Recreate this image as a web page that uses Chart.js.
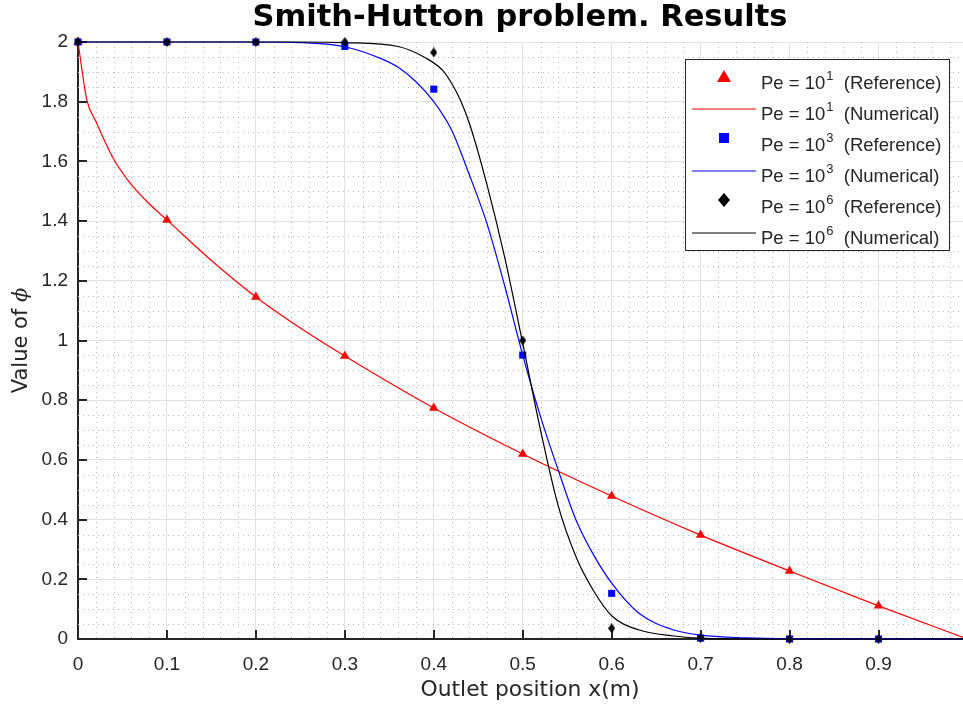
<!DOCTYPE html>
<html>
<head>
<meta charset="utf-8">
<title>Smith-Hutton problem. Results</title>
<script src="https://cdn.jsdelivr.net/npm/chart.js@4/dist/chart.umd.min.js"></script>
<style>
  html, body { margin: 0; padding: 0; background: #fff; }
  #wrap { width: 963px; height: 707px; }
</style>
</head>
<body>
<div id="wrap"><canvas id="phiChart" width="963" height="707"></canvas></div>
<script>
// reference values at the outlet (x = 0 .. 0.9)
const refX = [0, 0.1, 0.2, 0.3, 0.4, 0.5, 0.6, 0.7, 0.8, 0.9];
const refPe1 = [2.0, 1.404, 1.146, 0.948, 0.774, 0.620, 0.479, 0.348, 0.228, 0.111];
const refPe3 = [2.0, 2.0, 2.0, 1.985, 1.842, 0.951, 0.153, 0.003, 0.0, 0.0];
const refPe6 = [2.0, 2.0, 2.0, 2.0, 1.965, 1.0, 0.036, 0.004, 0.0, 0.0];

// numerical solution along the outlet
const numPe1X = [0, 0.01, 0.02, 0.03, 0.04, 0.05, 0.06, 0.08, 0.1, 0.15, 0.2, 0.25, 0.3, 0.4, 0.5, 0.6, 0.7, 0.8, 0.9, 1.0];
const numPe1 = [2.0, 1.805, 1.735, 1.668, 1.608, 1.562, 1.522, 1.458, 1.404, 1.268, 1.146, 1.042, 0.948, 0.774, 0.620, 0.479, 0.348, 0.228, 0.111, 0.0];

const numPe3X = [0, 0.2, 0.25, 0.3, 0.34, 0.36, 0.38, 0.4, 0.42, 0.44, 0.46, 0.48, 0.5, 0.52, 0.54, 0.56, 0.58, 0.6, 0.63, 0.67, 0.7, 0.75, 0.8, 1.0];
const numPe3 = [2.0, 2.0, 1.998, 1.984, 1.945, 1.915, 1.867, 1.800, 1.705, 1.555, 1.390, 1.180, 0.951, 0.745, 0.565, 0.398, 0.280, 0.187, 0.088, 0.030, 0.013, 0.004, 0.001, 0.0];

const numPe6X = [0, 0.25, 0.3, 0.36, 0.39, 0.41, 0.42, 0.43, 0.44, 0.46, 0.48, 0.5, 0.52, 0.54, 0.56, 0.58, 0.6, 0.63, 0.67, 0.7, 0.75, 1.0];
const numPe6 = [2.0, 2.0, 1.998, 1.985, 1.948, 1.905, 1.862, 1.805, 1.728, 1.520, 1.275, 0.990, 0.700, 0.445, 0.275, 0.160, 0.078, 0.031, 0.010, 0.003, 0.0, 0.0];

const xTicks = [0, 0.1, 0.2, 0.3, 0.4, 0.5, 0.6, 0.7, 0.8, 0.9];
const yTicks = [0, 0.2, 0.4, 0.6, 0.8, 1, 1.2, 1.4, 1.6, 1.8, 2];
const xMinorStep = 0.02;
const yMinorStep = 0.05;

const legendExp = ['1', '1', '3', '3', '6', '6'];
const legendKind = ['Reference', 'Numerical', 'Reference', 'Numerical', 'Reference', 'Numerical'];

const TXT = '#262626';
const FONT = '"Liberation Sans", Arial, Helvetica, sans-serif';
const WIDE = '"DejaVu Sans", Verdana, sans-serif';

function toPoints(xs, ys) {
  return xs.map((x, i) => ({ x: x, y: ys[i] }));
}

// small black diamond, a bit taller than wide
function diamond(w, h) {
  const c = document.createElement('canvas');
  c.width = w; c.height = h;
  const g = c.getContext('2d');
  g.fillStyle = '#000';
  g.beginPath();
  g.moveTo(w / 2, 0); g.lineTo(w, h / 2); g.lineTo(w / 2, h); g.lineTo(0, h / 2);
  g.closePath();
  g.fill();
  return c;
}

function fmt(v) {
  return String(+v.toFixed(2));
}

// let the plot area run all the way to the right edge of the canvas
const fullWidth = {
  id: 'fullWidth',
  afterLayout(chart) {
    const area = chart.chartArea;
    const x = chart.scales.x;
    if (area.right < chart.width) {
      area.right = chart.width;
      area.width = area.right - area.left;
      x.right = chart.width;
      x.width = x.right - x.left;
      x.configure();
    }
  }
};

// dotted minor grid + inward tick marks
const minorGrid = {
  id: 'minorGrid',
  beforeDatasetsDraw(chart) {
    const { ctx, chartArea: a, scales: { x, y } } = chart;
    ctx.save();
    ctx.strokeStyle = '#bababa';
    ctx.lineWidth = 1;
    ctx.setLineDash([1, 4]);
    for (let v = xMinorStep; v < x.max; v += xMinorStep) {
      if (Math.abs(v / 0.1 - Math.round(v / 0.1)) < 1e-6) continue;
      const px = Math.round(x.getPixelForValue(v)) + 0.5;
      ctx.beginPath(); ctx.moveTo(px, a.top); ctx.lineTo(px, a.bottom); ctx.stroke();
    }
    for (let v = yMinorStep; v < y.max; v += yMinorStep) {
      if (Math.abs(v / 0.2 - Math.round(v / 0.2)) < 1e-6) continue;
      const py = Math.round(y.getPixelForValue(v)) + 0.5;
      ctx.beginPath(); ctx.moveTo(a.left, py); ctx.lineTo(a.right, py); ctx.stroke();
    }
    ctx.setLineDash([]);
    ctx.strokeStyle = TXT;
    ctx.lineWidth = 2;
    xTicks.forEach(v => {
      const px = Math.round(x.getPixelForValue(v));
      ctx.beginPath(); ctx.moveTo(px, a.bottom); ctx.lineTo(px, a.bottom - 9); ctx.stroke();
    });
    yTicks.forEach(v => {
      const py = Math.round(y.getPixelForValue(v));
      ctx.beginPath(); ctx.moveTo(a.left, py); ctx.lineTo(a.left + 9, py); ctx.stroke();
    });
    ctx.restore();
  }
};

// title, axis titles and the legend box
const decorations = {
  id: 'decorations',
  afterDraw(chart) {
    const { ctx, chartArea: a } = chart;
    ctx.save();
    ctx.fillStyle = '#000';
    ctx.font = 'bold 30.5px ' + WIDE;
    ctx.textAlign = 'center';
    ctx.textBaseline = 'middle';
    ctx.fillText('Smith-Hutton problem. Results', 520, 18);

    ctx.fillStyle = TXT;
    ctx.font = '21.8px ' + WIDE;
    ctx.fillText('Outlet position x(m)', 530, 690);

    // y title, rotated, with italic phi
    ctx.save();
    ctx.translate(22, (a.top + a.bottom) / 2);
    ctx.rotate(-Math.PI / 2);
    const t1 = 'Value of ';
    const phiFont = 'italic 21px "DejaVu Serif", serif';
    ctx.font = '21px ' + WIDE;
    const w1 = ctx.measureText(t1).width;
    ctx.font = phiFont;
    const w2 = ctx.measureText('\u03d5').width;
    ctx.textAlign = 'left';
    ctx.font = '21px ' + WIDE;
    ctx.fillText(t1, -(w1 + w2) / 2, 0);
    ctx.font = phiFont;
    ctx.fillText('\u03d5', -(w1 + w2) / 2 + w1, 0);
    ctx.restore();

    // legend
    const bx = 685.5, by = 59.5, bw = 264, bh = 191;
    ctx.fillStyle = '#fff';
    ctx.fillRect(bx, by, bw, bh);
    ctx.strokeStyle = TXT;
    ctx.lineWidth = 1;
    ctx.strokeRect(bx, by, bw, bh);

    const colors = ['#ff0000', '#ff0000', '#0000ff', '#0000ff', '#000000', '#000000'];
    legendKind.forEach((kind, i) => {
      const cy = 82 + i * 31;
      const mx = 724;
      ctx.fillStyle = colors[i];
      ctx.strokeStyle = colors[i];
      if (kind === 'Numerical') {
        ctx.lineWidth = 1.2;
        ctx.beginPath(); ctx.moveTo(692, cy - 4); ctx.lineTo(756, cy - 4); ctx.stroke();
      } else if (i === 0) {
        ctx.beginPath(); ctx.moveTo(mx, cy - 12); ctx.lineTo(mx + 7, cy); ctx.lineTo(mx - 7, cy); ctx.closePath(); ctx.fill();
      } else if (i === 2) {
        ctx.fillRect(mx - 5, cy - 11, 10, 10);
      } else {
        ctx.beginPath(); ctx.moveTo(mx, cy - 13); ctx.lineTo(mx + 6, cy - 6); ctx.lineTo(mx, cy + 1); ctx.lineTo(mx - 6, cy - 6); ctx.closePath(); ctx.fill();
      }
      // "Pe = 10^n (kind)"
      ctx.fillStyle = TXT;
      ctx.textAlign = 'left';
      ctx.textBaseline = 'alphabetic';
      let tx = 761;
      const base = cy + 7;
      ctx.font = '18.5px ' + FONT;
      ctx.fillText('Pe = 10', tx, base);
      tx += ctx.measureText('Pe = 10').width + 1;
      ctx.font = '13px ' + FONT;
      ctx.fillText(legendExp[i], tx, base - 9);
      tx += ctx.measureText(legendExp[i]).width;
      ctx.font = '18.5px ' + FONT;
      ctx.fillText('  (' + kind + ')', tx, base);
    });
    ctx.restore();
  }
};

const lineOpts = { showLine: true, pointRadius: 0, borderWidth: 1.2, cubicInterpolationMode: 'monotone', clip: false };

new Chart(document.getElementById('phiChart'), {
  type: 'scatter',
  data: {
    datasets: [
      { label: 'Pe = 10^1 (Reference)', data: toPoints(refX, refPe1), pointStyle: 'triangle', pointRadius: 5.5,
        backgroundColor: '#ff0000', borderColor: '#ff0000', borderWidth: 0, clip: false, order: 5 },
      Object.assign({ label: 'Pe = 10^1 (Numerical)', data: toPoints(numPe1X, numPe1), borderColor: '#ff0000', order: 4 }, lineOpts),
      { label: 'Pe = 10^3 (Reference)', data: toPoints(refX, refPe3), pointStyle: 'rect', pointRadius: 5,
        backgroundColor: '#0000ff', borderColor: '#0000ff', borderWidth: 0, clip: false, order: 3 },
      Object.assign({ label: 'Pe = 10^3 (Numerical)', data: toPoints(numPe3X, numPe3), borderColor: '#0000ff', order: 2 }, lineOpts),
      { label: 'Pe = 10^6 (Reference)', data: toPoints(refX, refPe6), pointStyle: diamond(7, 10), pointRadius: 5,
        backgroundColor: '#000', borderColor: '#000', borderWidth: 0, clip: false, order: 1 },
      Object.assign({ label: 'Pe = 10^6 (Numerical)', data: toPoints(numPe6X, numPe6), borderColor: '#000000', order: 0 }, lineOpts)
    ]
  },
  options: {
    responsive: false,
    animation: false,
    devicePixelRatio: 1,
    layout: { padding: { top: 42, left: 0, right: 0, bottom: 0 } },
    plugins: { legend: { display: false }, tooltip: { enabled: false }, title: { display: false } },
    scales: {
      x: {
        type: 'linear', min: 0, max: 0.995,
        afterBuildTicks: s => { s.ticks = xTicks.map(v => ({ value: v })); },
        afterFit: s => { s.height = 68; s.paddingLeft = 0; s.paddingRight = 0; },
        ticks: { callback: fmt, color: TXT, font: { family: FONT, size: 19 }, padding: 14, maxRotation: 0, autoSkip: false },
        grid: { color: '#e2e2e2', lineWidth: 1, drawTicks: false },
        border: { color: TXT, width: 2 }
      },
      y: {
        type: 'linear', min: 0, max: 2,
        afterBuildTicks: s => { s.ticks = yTicks.map(v => ({ value: v })); },
        afterFit: s => { s.width = 78; s.paddingTop = 0; s.paddingBottom = 0; s.paddingLeft = 0; s.paddingRight = 0; },
        ticks: { callback: fmt, color: TXT, font: { family: FONT, size: 19 }, padding: 10, autoSkip: false },
        grid: { color: '#e2e2e2', lineWidth: 1, drawTicks: false },
        border: { color: TXT, width: 2 }
      }
    }
  },
  plugins: [fullWidth, minorGrid, decorations]
});
</script>
</body>
</html>
